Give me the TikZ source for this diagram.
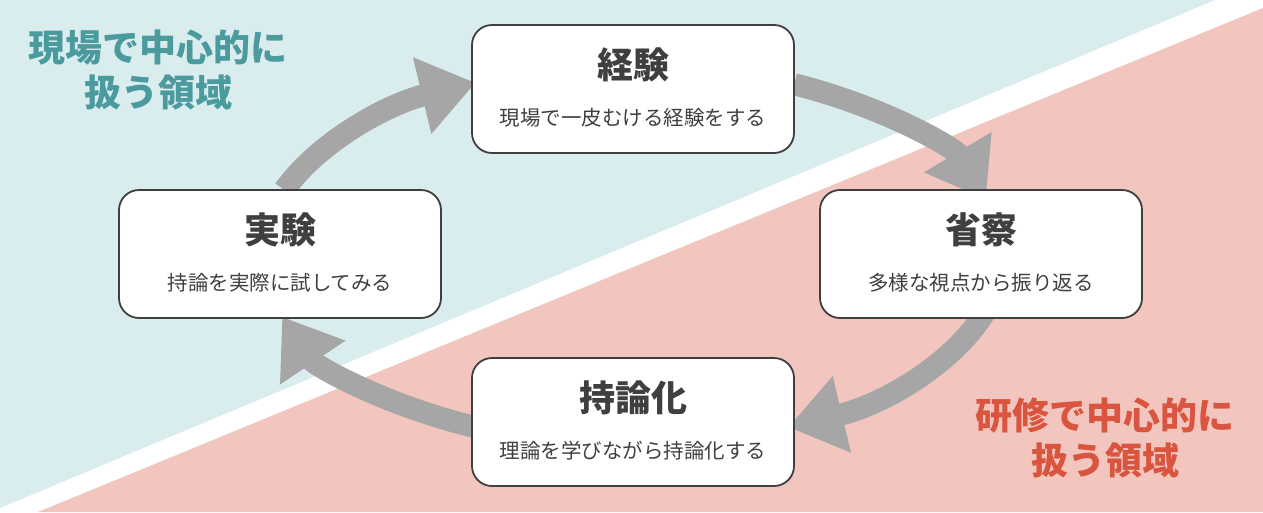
\documentclass[tikz,border=0pt]{standalone}
\usepackage{fontspec}
\setmainfont{Noto Sans CJK JP}
\usetikzlibrary{arrows.meta}
\definecolor{bgteal}{HTML}{DAEDEE}
\definecolor{bgpink}{HTML}{F2C6BE}
\definecolor{tealtxt}{HTML}{4A9A9E}
\definecolor{redtxt}{HTML}{D9553F}
\definecolor{arrgray}{HTML}{A6A6A6}
\definecolor{boxline}{HTML}{3F3F3F}
\definecolor{txt}{HTML}{3F3F3F}
\tikzset{
  x=1pt,y=1pt,
  stepbox/.style={draw=boxline,line width=1.8pt,fill=white,rounded corners=20pt,minimum width=322pt,minimum height=128pt},
  ttl/.style={font=\fontsize{36}{40}\selectfont\bfseries,text=txt},
  sub/.style={font=\fontsize{20.5}{24}\selectfont,text=txt},
  corner/.style={font=\fontsize{37}{45}\selectfont\bfseries,align=center},
  cyc/.style={draw=arrgray,line width=22pt,-{Triangle[length=55pt,width=75pt]}}
}
\begin{document}
\begin{tikzpicture}
\useasboundingbox (0,0) rectangle (1263,-512);
\fill[white] (0,0) rectangle (1263,-512);
\fill[bgteal] (0,0) -- (1215,0) -- (0,-508) -- cycle;
\fill[bgpink] (1263,-8) -- (1263,-512) -- (38,-512) -- cycle;
\coordinate (c) at (632,-255);
\draw[cyc] (c) ++(160:370 and 190) arc[start angle=160,end angle=115,x radius=370,y radius=190];
\draw[cyc] (c) ++(64:370 and 190) arc[start angle=64,end angle=17,x radius=370,y radius=190];
\draw[cyc] (c) ++(-15:370 and 190) arc[start angle=-15,end angle=-65,x radius=370,y radius=190];
\draw[cyc] (c) ++(-115:370 and 190) arc[start angle=-115,end angle=-161,x radius=370,y radius=190];
\node[stepbox] (b1) at (633,-89) {};
\node[stepbox] (b2) at (981,-254) {};
\node[stepbox] (b3) at (633,-422) {};
\node[stepbox] (b4) at (280,-254) {};
\node[ttl] (t1) at (633,-65) {経験};
\node[sub] (s1) at (633,-118) {現場で一皮むける経験をする};
\node[ttl] (t2) at (981,-230) {省察};
\node[sub] (s2) at (981,-283) {多様な視点から振り返る};
\node[ttl] (t3) at (633,-398) {持論化};
\node[sub] (s3) at (633,-451) {理論を学びながら持論化する};
\node[ttl] (t4) at (280,-230) {実験};
\node[sub] (s4) at (280,-283) {持論を実際に試してみる};
\node[corner,text=tealtxt] (cl) at (158,-70) {現場で中心的に\\扱う領域};
\node[corner,text=redtxt] (cr) at (1105,-438) {研修で中心的に\\扱う領域};
\end{tikzpicture}
\end{document}
